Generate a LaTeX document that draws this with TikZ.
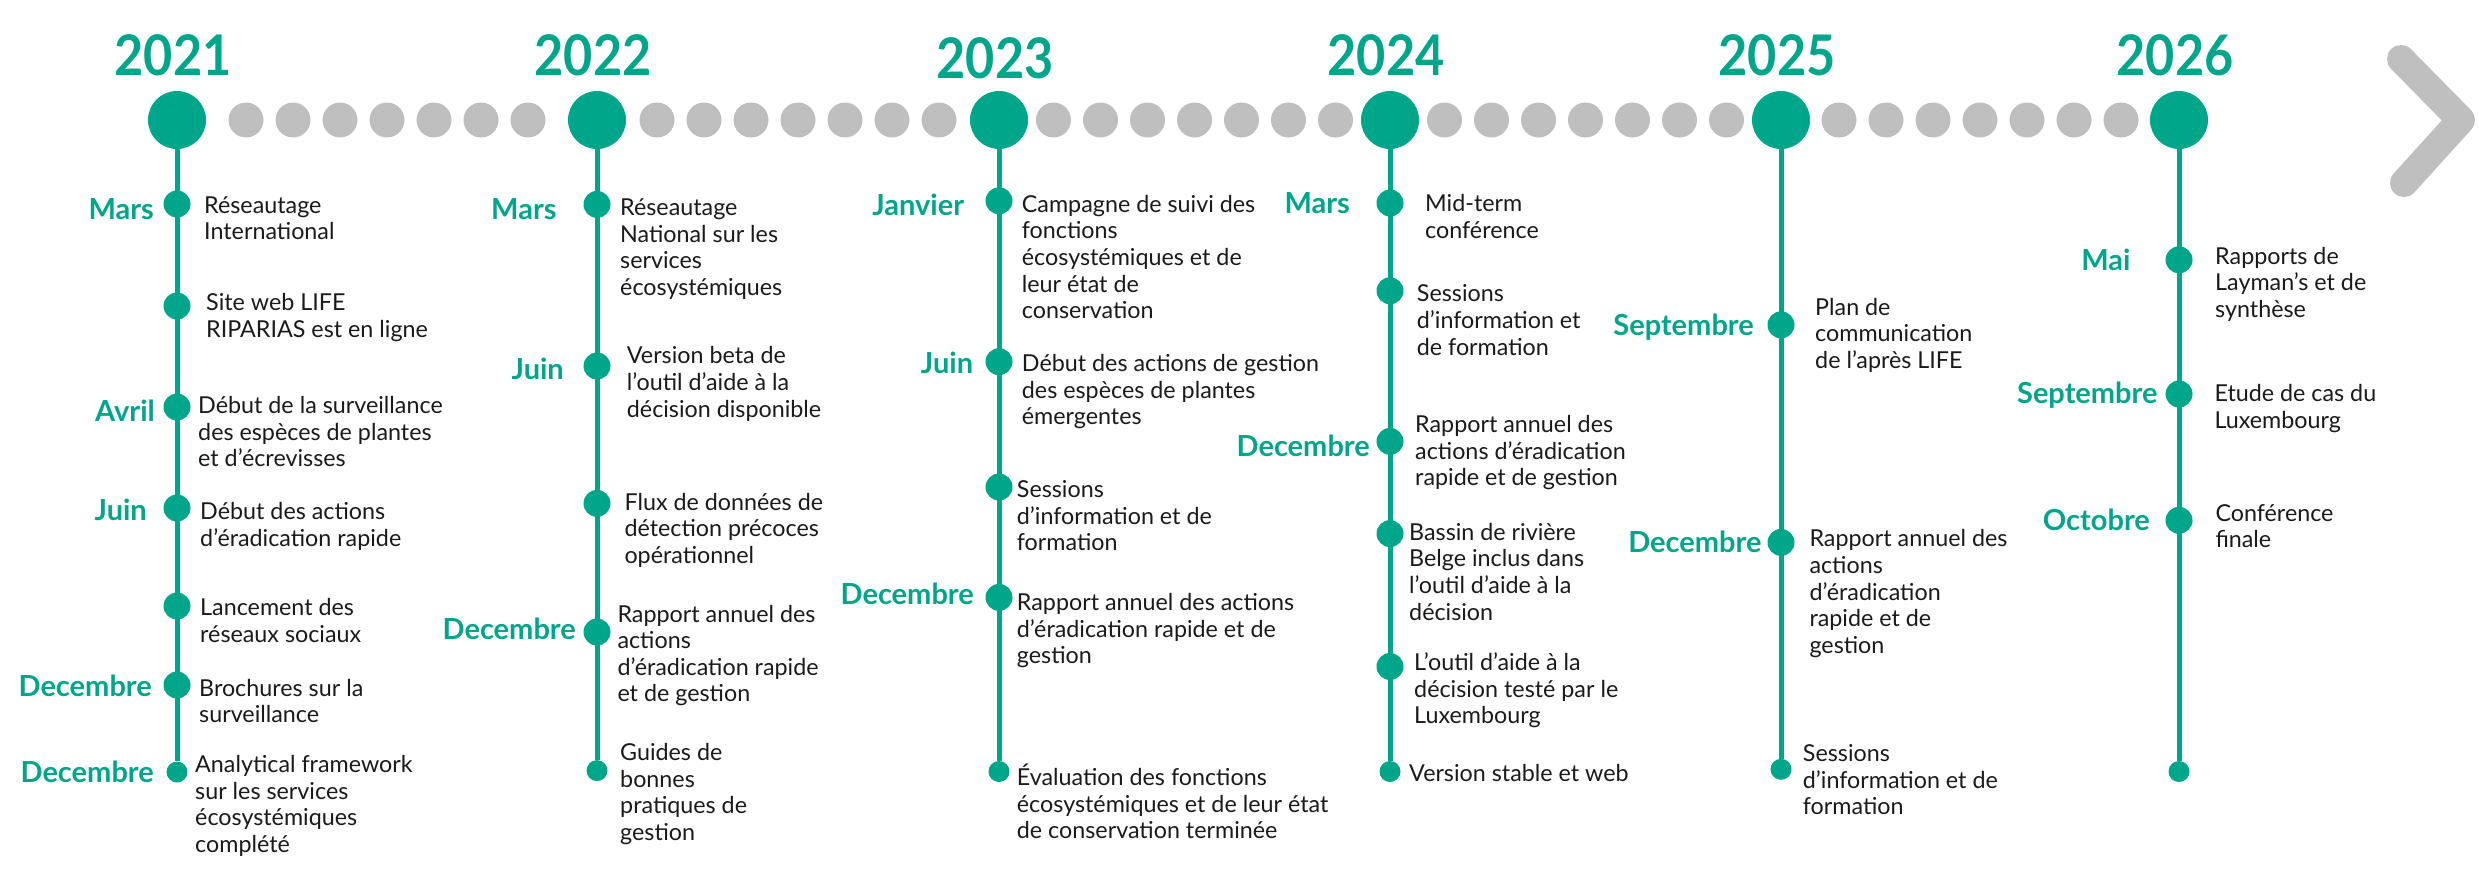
\documentclass[tikz,border=0pt]{standalone}
\usepackage{fontspec}
\setmainfont{Lato}
\usepackage{graphicx}
\definecolor{tealc}{HTML}{00A68A}
\definecolor{greyc}{HTML}{BFBFBF}
\definecolor{textc}{HTML}{1A1A1A}
\newcommand\evlines[1]{\begin{tabular}[t]{@{}l@{}}#1\end{tabular}}
\tikzset{
  yearcirc/.style={circle, fill=tealc, minimum size=58pt, inner sep=0pt},
  greydot/.style={circle, fill=greyc, minimum size=35pt, inner sep=0pt},
  evdot/.style={circle, fill=tealc, minimum size=27pt, inner sep=0pt},
  enddot/.style={circle, fill=tealc, minimum size=21pt, inner sep=0pt},
  vline/.style={draw=tealc, line width=5pt},
  yearlab/.style={font=\fontsize{56}{60}\selectfont\bfseries, text=tealc, anchor=base, inner sep=0pt},
  monthlab/.style={font=\fontsize{29}{31}\selectfont\bfseries, text=tealc, anchor=base east, inner sep=0pt},
  evtext/.style={font=\fontsize{23.3}{26.6}\selectfont, text=textc, anchor=base west, inner sep=0pt},
  chevron/.style={draw=greyc, line width=28pt, line cap=round, line join=round}
}
\begin{document}
\begin{tikzpicture}[x=1pt, y=-1pt]
\useasboundingbox (0,0) rectangle (2479,875);
% years
\foreach \n/\x/\yr/\yb in {1/177/2021/76, 2/597/2022/76, 3/999/2023/78, 4/1390/2024/76, 5/1781/2025/76, 6/2179/2026/76} {
  \node[yearcirc] (y\n) at (\x,120) {};
  \node[yearlab] (yl\n) at (\x-4,\yb) {\scalebox{0.9}[1]{\yr}};
}
% grey dots
\foreach \a/\b [count=\g] in {177/597, 597/999, 999/1390, 1390/1781, 1781/2179} {
  \foreach \k in {0,...,6} {
    \node[greydot] (g\g-\k) at ({(\a+\b)/2+(\k-3)*47},120) {};
  }
}
% chevron
\draw[chevron] (2401,59) -- (2461,120) -- (2404,183);

% ---------- 2021 ----------
\node[evdot] (a1) at (177,204) {};
\node[evdot] (a2) at (177,306) {};
\node[evdot] (a3) at (177,407) {};
\node[evdot] (a4) at (177,508) {};
\node[evdot] (a5) at (177,606) {};
\node[evdot] (a6) at (177,685) {};
\node[enddot] (a7) at (177,772) {};
\draw[vline] (y1) -- (a7);
\node[monthlab] (ma1) at (154,219) {Mars};
\node[monthlab] (ma3) at (155,421.5) {Avril};
\node[monthlab] (ma4) at (147,520) {Juin};
\node[monthlab] (ma6) at (152,696.6) {Decembre};
\node[monthlab] (ma7) at (154,782.6) {Decembre};
\node[evtext] (ta1) at (204,213.2) {\evlines{Réseautage\\International}};
\node[evtext] (ta2) at (206,310.7) {\evlines{Site web LIFE\\RIPARIAS est en ligne}};
\node[evtext] (ta3) at (198,413.5) {\evlines{Début de la surveillance\\des espèces de plantes\\et d’écrevisses}};
\node[evtext] (ta4) at (200,519.8) {\evlines{Début des actions\\d’éradication rapide}};
\node[evtext] (ta5) at (200,615.5) {\evlines{Lancement des\\réseaux sociaux}};
\node[evtext] (ta6) at (199,696.2) {\evlines{Brochures sur la\\surveillance}};
\node[evtext] (ta7) at (195,772.4) {\evlines{Analytical framework\\sur les services\\écosystémiques\\complété}};

% ---------- 2022 ----------
\node[evdot] (b1) at (597,204.4) {};
\node[evdot] (b2) at (597,366) {};
\node[evdot] (b3) at (597,503.4) {};
\node[evdot] (b4) at (597,632) {};
\node[enddot] (b5) at (597,770.6) {};
\draw[vline] (y2) -- (b5);
\node[monthlab] (mb1) at (556.7,219) {Mars};
\node[monthlab] (mb2) at (564,379.4) {Juin};
\node[monthlab] (mb4) at (576,639.5) {Decembre};
\node[evtext] (tb1) at (620,215.4) {\evlines{Réseautage\\National sur les\\services\\écosystémiques}};
\node[evtext] (tb2) at (626.7,363.9) {\evlines{Version beta de\\l’outil d’aide à la\\décision disponible}};
\node[evtext] (tb3) at (624.3,510) {\evlines{Flux de données de\\détection précoces\\opérationnel}};
\node[evtext] (tb4) at (617.3,622) {\evlines{Rapport annuel des\\actions\\d’éradication rapide\\et de gestion}};
\node[evtext] (tb5) at (620,760.4) {\evlines{Guides de\\bonnes\\pratiques de\\gestion}};

% ---------- 2023 ----------
\node[evdot] (c1) at (999,200.8) {};
\node[evdot] (c2) at (999,361.7) {};
\node[evdot] (c3) at (999,487) {};
\node[evdot] (c4) at (999,597.4) {};
\node[enddot] (c5) at (999,771.5) {};
\draw[vline] (y3) -- (c5);
\node[monthlab] (mc1) at (964.3,215.4) {Janvier};
\node[monthlab] (mc2) at (973.3,373.6) {Juin};
\node[monthlab] (mc4) at (974,604) {Decembre};
\node[evtext] (tc1) at (1021.7,212.3) {\evlines{Campagne de suivi des\\fonctions\\écosystémiques et de\\leur état de\\conservation}};
\node[evtext] (tc2) at (1021.7,371.4) {\evlines{Début des actions de gestion\\des espèces de plantes\\émergentes}};
\node[evtext] (tc3) at (1016.7,497.7) {\evlines{Sessions\\d’information et de\\formation}};
\node[evtext] (tc4) at (1016.7,610.7) {\evlines{Rapport annuel des actions\\d’éradication rapide et de\\gestion}};
\node[evtext] (tc5) at (1016.7,785.7) {\evlines{Évaluation des fonctions\\écosystémiques et de leur état\\de conservation terminée}};

% ---------- 2024 ----------
\node[evdot] (d1) at (1390,203) {};
\node[evdot] (d2) at (1390,290.8) {};
\node[evdot] (d3) at (1390,441.4) {};
\node[evdot] (d4) at (1390,533.6) {};
\node[evdot] (d5) at (1390,666.5) {};
\node[enddot] (d6) at (1390,771.5) {};
\draw[vline] (y4) -- (d6);
\node[monthlab] (md1) at (1350,213.2) {Mars};
\node[monthlab] (md3) at (1370,456.9) {Decembre};
\node[evtext] (td1) at (1425,211.9) {\evlines{Mid-term\\conférence}};
\node[evtext] (td2) at (1416.7,301.8) {\evlines{Sessions\\d’information et\\de formation}};
\node[evtext] (td3) at (1415,432.5) {\evlines{Rapport annuel des\\actions d’éradication\\rapide et de gestion}};
\node[evtext] (td4) at (1409,540.2) {\evlines{Bassin de rivière\\Belge inclus dans\\l’outil d’aide à la\\décision}};
\node[evtext] (td5) at (1414,670.5) {\evlines{L’outil d’aide à la\\décision testé par le\\Luxembourg}};
\node[evtext] (td6) at (1409,781.2) {\evlines{Version stable et web}};

% ---------- 2025 ----------
\node[evdot] (e1) at (1781,324.9) {};
\node[evdot] (e2) at (1781,542.4) {};
\node[enddot] (e3) at (1781,769.3) {};
\draw[vline] (y5) -- (e3);
\node[monthlab] (me1) at (1754,335) {Septembre};
\node[monthlab] (me2) at (1761.7,552.2) {Decembre};
\node[evtext] (te1) at (1815,315.1) {\evlines{Plan de\\communication\\de l’après LIFE}};
\node[evtext] (te2) at (1809.3,546.9) {\evlines{Rapport annuel des\\actions\\d’éradication\\rapide et de\\gestion}};
\node[evtext] (te3) at (1802.7,761.7) {\evlines{Sessions\\d’information et de\\formation}};

% ---------- 2026 ----------
\node[evdot] (f1) at (2179,259.8) {};
\node[evdot] (f2) at (2179,394) {};
\node[evdot] (f3) at (2179,520.3) {};
\node[enddot] (f4) at (2179,771.5) {};
\draw[vline] (y6) -- (f4);
\node[monthlab] (mf1) at (2130.7,270) {Mai};
\node[monthlab] (mf2) at (2157.7,403.7) {Septembre};
\node[monthlab] (mf3) at (2150,530.9) {Octobre};
\node[evtext] (tf1) at (2215,264.2) {\evlines{Rapports de\\Layman’s et de\\synthèse}};
\node[evtext] (tf2) at (2214.3,401.5) {\evlines{Etude de cas du\\Luxembourg}};
\node[evtext] (tf3) at (2215.3,521.2) {\evlines{Conférence\\finale}};
\end{tikzpicture}
\end{document}
